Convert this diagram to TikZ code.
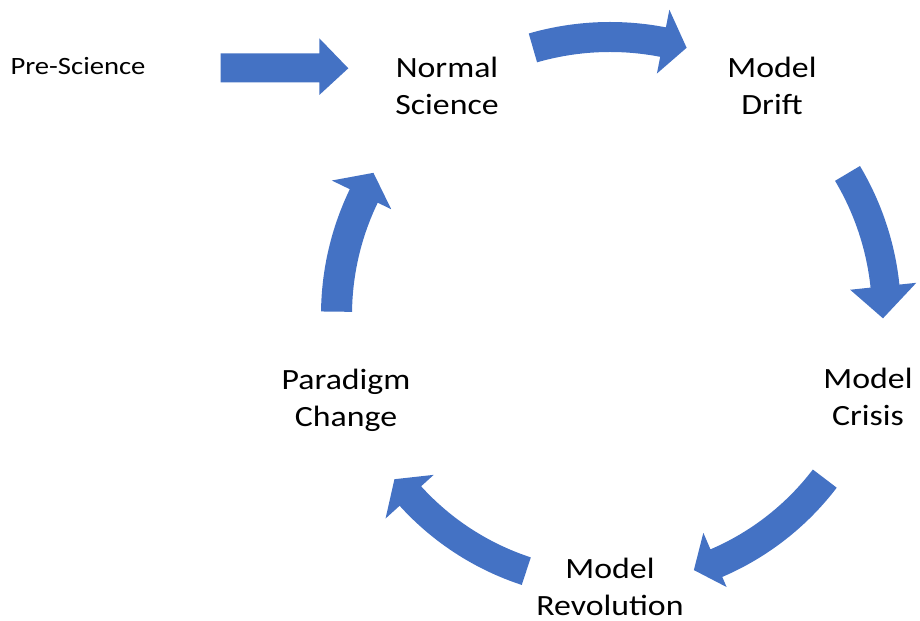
\documentclass[tikz,border=0pt]{standalone}
\usepackage{fontspec}
\setmainfont[FakeStretch=1.15]{Carlito}
\definecolor{officeblue}{HTML}{4472C4}
\tikzset{
  arrowfill/.style={fill=officeblue},
  biglabel/.style={inner sep=0pt, align=center, font=\fontsize{29.5}{37}\selectfont, text=black},
  smalllabel/.style={inner sep=0pt, font=\fontsize{25}{30}\selectfont, text=black}
}
% #1 tail angle, #2 shaft end angle, #3 tip angle, #4 inner r, #5 outer r, #6 barb in r, #7 barb out r, #8 tip r
\newcommand\bentarrow[8]{%
  \fill[arrowfill] ([shift={(#1:#5)}]ctr) arc[start angle=#1, end angle=#2, radius=#5 bp]
    -- ([shift={(#2:#7)}]ctr) -- ([shift={(#3:#8)}]ctr) -- ([shift={(#2:#6)}]ctr)
    -- ([shift={(#2:#4)}]ctr) arc[start angle=#2, end angle=#1, radius=#4 bp] -- cycle;}
\begin{document}
\begin{tikzpicture}[x=1bp,y=1bp]
\useasboundingbox (0,0) rectangle (920,621);
\coordinate (ctr) at (610,306);
% labels
\node[smalllabel, anchor=base] (pre) at (78,546.7) {Pre-Science};
\node[biglabel] (normal) at (447,535.5) {Normal\\Science};
\node[biglabel] (drift) at (772,535) {Model\\Drift};
\node[biglabel] (crisis) at (868,224) {Model\\Crisis};
\node[biglabel] (paradigm) at (346,221) {Paradigm\\Change};
\node[biglabel] (revolution) at (610,34) {Model\\Revolution};
% straight arrow
\fill[arrowfill] (220.7,567.7) -- (319.3,567.7) -- (319.3,582.7) -- (348.3,552.7)
  -- (319.3,526) -- (319.3,538.7) -- (220.7,538.7) -- cycle;
% curved arrows
\bentarrow{106.1}{79}{74}{263}{293}{246}{311}{278}
\bentarrow{30.8}{6}{-0.7}{262}{291}{241.5}{308}{273}
\bentarrow{-37.3}{-66.8}{-71.8}{255}{285}{237}{296}{268.5}
\bentarrow{-108.1}{-137.8}{-142.7}{255}{284}{238}{303}{271}
\bentarrow{179.3}{154.2}{149}{258}{289}{243}{309}{276}
\end{tikzpicture}
\end{document}
